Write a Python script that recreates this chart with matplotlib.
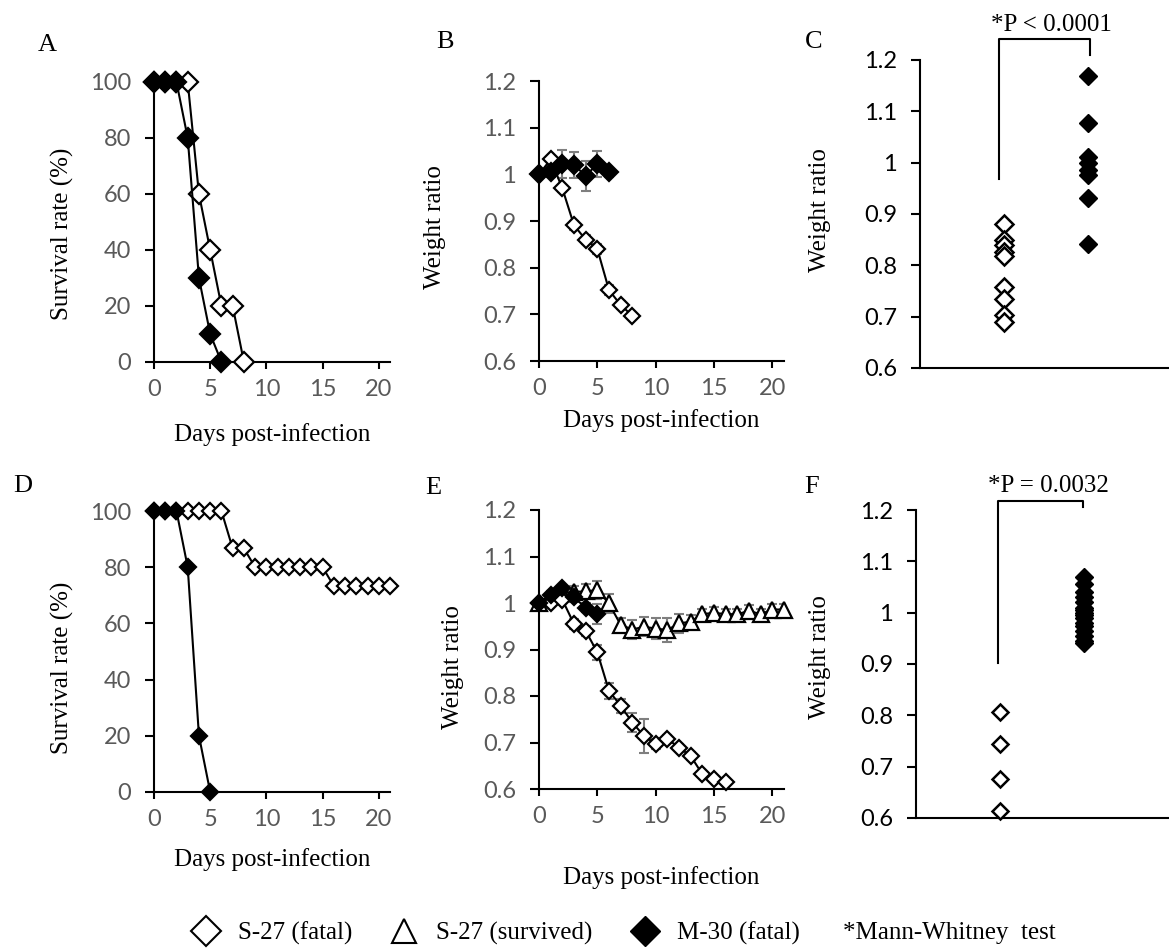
import numpy as np
import matplotlib
matplotlib.use('Agg')
import matplotlib.pyplot as plt
from matplotlib.lines import Line2D
from matplotlib.ticker import FuncFormatter

plt.rcParams['font.family'] = ['Liberation Serif', 'DejaVu Serif']

W, H = 1169, 949

# ---- A: survival, first challenge
days_A_s27 = [0, 1, 2, 3, 4, 5, 6, 7, 8]
surv_A_s27 = [100, 100, 100, 100, 60, 40, 20, 20, 0]
days_A_m30 = [0, 1, 2, 3, 4, 5, 6]
surv_A_m30 = [100, 100, 100, 80, 30, 10, 0]

# ---- B: weight ratio, first challenge
days_B_s27 = [0, 1, 2, 3, 4, 5, 6, 7, 8]
wt_B_s27 = [1.0, 1.032, 0.97, 0.891, 0.86, 0.84, 0.752, 0.72, 0.697]
err_B_s27 = [0, 0.005, 0.008, 0.01, 0.01, 0.01, 0.01, 0.008, 0.005]
days_B_m30 = [0, 1, 2, 3, 4, 5, 6]
wt_B_m30 = [1.0, 1.004, 1.022, 1.02, 0.997, 1.022, 1.004]
err_B_m30 = [0, 0.01, 0.03, 0.028, 0.032, 0.028, 0.01]

# ---- C: individual weight ratios
C_s27 = [0.881, 0.849, 0.84, 0.825, 0.819, 0.758, 0.735, 0.704, 0.689]
C_m30 = [1.169, 1.078, 1.012, 0.999, 0.986, 0.976, 0.931, 0.841]

# ---- D: survival, second experiment
days_D_s27 = list(range(22))
surv_D_s27 = [100, 100, 100, 100, 100, 100, 100, 86.7, 86.7, 80, 80, 80, 80, 80,
              80, 80, 73.3, 73.3, 73.3, 73.3, 73.3, 73.3]
days_D_m30 = [0, 1, 2, 3, 4, 5]
surv_D_m30 = [100, 100, 100, 80, 20, 0]

# ---- E: weight ratio, second experiment
days_E_fatal = list(range(17))
wt_E_fatal = [1.0, 1.0, 1.007, 0.955, 0.94, 0.894, 0.811, 0.779, 0.743, 0.714,
              0.697, 0.708, 0.689, 0.671, 0.632, 0.621, 0.614]
err_E_fatal = [0, 0.005, 0.008, 0.01, 0.01, 0.016, 0.018, 0.015, 0.02, 0.036,
               0.01, 0.008, 0.008, 0.008, 0.005, 0.005, 0.005]
days_E_surv = list(range(22))
wt_E_surv = [1.0, 1.015, 1.021, 1.024, 1.025, 1.028, 0.999, 0.953, 0.943, 0.949,
             0.945, 0.942, 0.956, 0.96, 0.976, 0.979, 0.976, 0.976, 0.983, 0.976,
             0.986, 0.986]
err_E_surv = [0, 0.01, 0.01, 0.012, 0.015, 0.02, 0.02, 0.015, 0.02, 0.02, 0.022,
              0.025, 0.02, 0.015, 0.012, 0.012, 0.012, 0.012, 0.012, 0.012, 0.012,
              0.012]
days_E_m30 = [0, 1, 2, 3, 4, 5]
wt_E_m30 = [1.0, 1.018, 1.033, 1.012, 0.99, 0.976]
err_E_m30 = [0, 0.005, 0.005, 0.01, 0.01, 0.022]

# ---- F: individual weight ratios
F_s27 = [0.806, 0.745, 0.676, 0.614]
F_m30 = [1.07, 1.055, 1.04, 1.03, 1.02, 1.01, 1.005, 1.0, 0.995, 0.99, 0.98,
         0.975, 0.965, 0.955, 0.945, 0.94]

legend_labels = ['S-27 (fatal)', 'S-27 (survived)', 'M-30 (fatal)']
test_note = '*Mann-Whitney  test'

GRAY = '#595959'
ERRC = '#7f7f7f'


def px_axes(fig, x0, x1, y0, y1):
    return fig.add_axes([x0 / W, 1 - y1 / H, (x1 - x0) / W, (y1 - y0) / H])


def style_axes(ax, tick_color=GRAY):
    for s in ['top', 'right']:
        ax.spines[s].set_visible(False)
    ax.spines['left'].set_linewidth(1.5)
    ax.spines['bottom'].set_linewidth(1.5)
    ax.tick_params(axis='y', direction='out', length=6.5, width=1.5, pad=10,
                   labelsize=17, labelcolor=tick_color, labelfontfamily='Lato')
    ax.tick_params(axis='x', direction='out', length=5, width=1.5, pad=7,
                   labelsize=17, labelcolor=tick_color, labelfontfamily='Lato')


def set_labels(ax, xlab, xy, ylab, yx, yy):
    if xlab:
        ax.set_xlabel(xlab, fontsize=18)
        ax.xaxis.set_label_coords(0.5, xy)
        ax.xaxis.label.set_va('center')
    ax.set_ylabel(ylab, fontsize=18)
    ax.yaxis.set_label_coords(yx, yy)
    ax.yaxis.label.set_va('center')


def line(ax, x, y, filled, ms, marker='D', z=3):
    ax.plot(x, y, '-', color='k', lw=1.5, marker=marker, ms=ms,
            mfc='k' if filled else 'white', mec='k', mew=1.6,
            clip_on=False, zorder=z)


def errs(ax, x, y, e):
    ax.errorbar(x, y, yerr=e, fmt='none', ecolor=ERRC, elinewidth=1.5,
                capsize=3.5, capthick=1.5, zorder=2)


def survival_panel(ax, d1, s1, d2, s2, ms):
    line(ax, d1, s1, False, ms)
    line(ax, d2, s2, True, ms, z=4)
    ax.set_xlim(0, 21)
    ax.set_ylim(0, 100)
    ax.set_xticks([0, 5, 10, 15, 20])
    ax.set_yticks([0, 20, 40, 60, 80, 100])
    style_axes(ax)


def ratio_fmt(v, pos):
    return '{:g}'.format(round(v, 1))


def dot_panel(ax, s27, m30, ms_open, ms_fill, bracket, ptext):
    ax.plot([1] * len(s27), s27, ls='none', marker='D', ms=ms_open, mfc='white',
            mec='k', mew=1.8, clip_on=False, zorder=3)
    ax.plot([2] * len(m30), m30, ls='none', marker='D', ms=ms_fill, mfc='k',
            mec='k', clip_on=False, zorder=3)
    ax.set_xlim(0, 3)
    ax.set_ylim(0.6, 1.2)
    ax.set_xticks([])
    ax.set_yticks(np.arange(0.6, 1.21, 0.1))
    ax.yaxis.set_major_formatter(FuncFormatter(ratio_fmt))
    style_axes(ax, tick_color='black')
    xl, xr, yl, yt, yr, ty = bracket
    ax.plot([xl, xl, xr, xr], [yl, yt, yt, yr], color='k', lw=1.5, clip_on=False)
    ax.text((xl + xr) / 2 + 0.09, ty, ptext, ha='center', va='center', fontsize=18)


fig = plt.figure(figsize=(W / 100, H / 100), dpi=100)

# A
axA = px_axes(fig, 154, 390, 82, 362)
survival_panel(axA, days_A_s27, surv_A_s27, days_A_m30, surv_A_m30, 10)
set_labels(axA, 'Days post-infection', -0.26, 'Survival rate (%)', -0.39, 0.457)

# B
axB = px_axes(fig, 539, 784, 81, 361)
errs(axB, days_B_s27, wt_B_s27, err_B_s27)
errs(axB, days_B_m30, wt_B_m30, err_B_m30)
line(axB, days_B_s27, wt_B_s27, False, 8.5)
line(axB, days_B_m30, wt_B_m30, True, 9, z=4)
axB.set_xlim(0, 21)
axB.set_ylim(0.6, 1.2)
axB.set_xticks([0, 5, 10, 15, 20])
axB.set_yticks(np.arange(0.6, 1.21, 0.1))
axB.yaxis.set_major_formatter(FuncFormatter(ratio_fmt))
style_axes(axB)
set_labels(axB, 'Days post-infection', -0.211, 'Weight ratio', -0.424, 0.479)

# C
axC = px_axes(fig, 920, 1172, 60, 368)
dot_panel(axC, C_s27, C_m30, 9.5, 9.5, (0.94, 2.02, 0.968, 1.241, 1.21, 1.268),
          '*P < 0.0001')
set_labels(axC, None, 0, 'Weight ratio', -0.397, 0.513)

# D
axD = px_axes(fig, 154, 390, 511, 792)
survival_panel(axD, days_D_s27, surv_D_s27, days_D_m30, surv_D_m30, 8.5)
set_labels(axD, 'Days post-infection', -0.242, 'Survival rate (%)', -0.39, 0.441)

# E
axE = px_axes(fig, 539, 784, 510, 789)
errs(axE, days_E_surv, wt_E_surv, err_E_surv)
errs(axE, days_E_fatal, wt_E_fatal, err_E_fatal)
errs(axE, days_E_m30, wt_E_m30, err_E_m30)
line(axE, days_E_surv, wt_E_surv, False, 12, marker='^', z=3)
line(axE, days_E_fatal, wt_E_fatal, False, 8, z=4)
line(axE, days_E_m30, wt_E_m30, True, 8, z=5)
axE.set_xlim(0, 21)
axE.set_ylim(0.6, 1.2)
axE.set_xticks([0, 5, 10, 15, 20])
axE.set_yticks(np.arange(0.6, 1.21, 0.1))
axE.yaxis.set_major_formatter(FuncFormatter(ratio_fmt))
style_axes(axE)
set_labels(axE, 'Days post-infection', -0.319, 'Weight ratio', -0.351, 0.437)

# F
axF = px_axes(fig, 916, 1168, 510, 818)
dot_panel(axF, F_s27, F_m30, 8.5, 9.5, (0.98, 1.99, 0.902, 1.2175, 1.206, 1.247),
          '*P = 0.0032')
set_labels(axF, None, 0, 'Weight ratio', -0.381, 0.523)

# panel letters
for lab, x, y in [('A', 47, 45), ('B', 445, 42), ('C', 814, 42),
                  ('D', 23, 486), ('E', 433, 488), ('F', 812, 487)]:
    fig.text(x / W, 1 - y / H, lab, fontsize=19, ha='center', va='center')

# legend
handles = [
    Line2D([], [], ls='none', marker='D', ms=15, mfc='white', mec='k', mew=1.5),
    Line2D([], [], ls='none', marker='^', ms=17, mfc='white', mec='k', mew=1.5),
    Line2D([], [], ls='none', marker='D', ms=15, mfc='k', mec='k'),
]
fig.legend(handles, legend_labels, loc='center left',
           bbox_to_anchor=(193.5 / W, 1 - 933 / H), ncol=3, frameon=False,
           fontsize=18, handlelength=1.0, handletextpad=0.78,
           columnspacing=1.58, borderpad=0, borderaxespad=0)
fig.text(843 / W, 1 - 933 / H, test_note, fontsize=18, ha='left', va='center')

fig.savefig('out.png', dpi=100)
